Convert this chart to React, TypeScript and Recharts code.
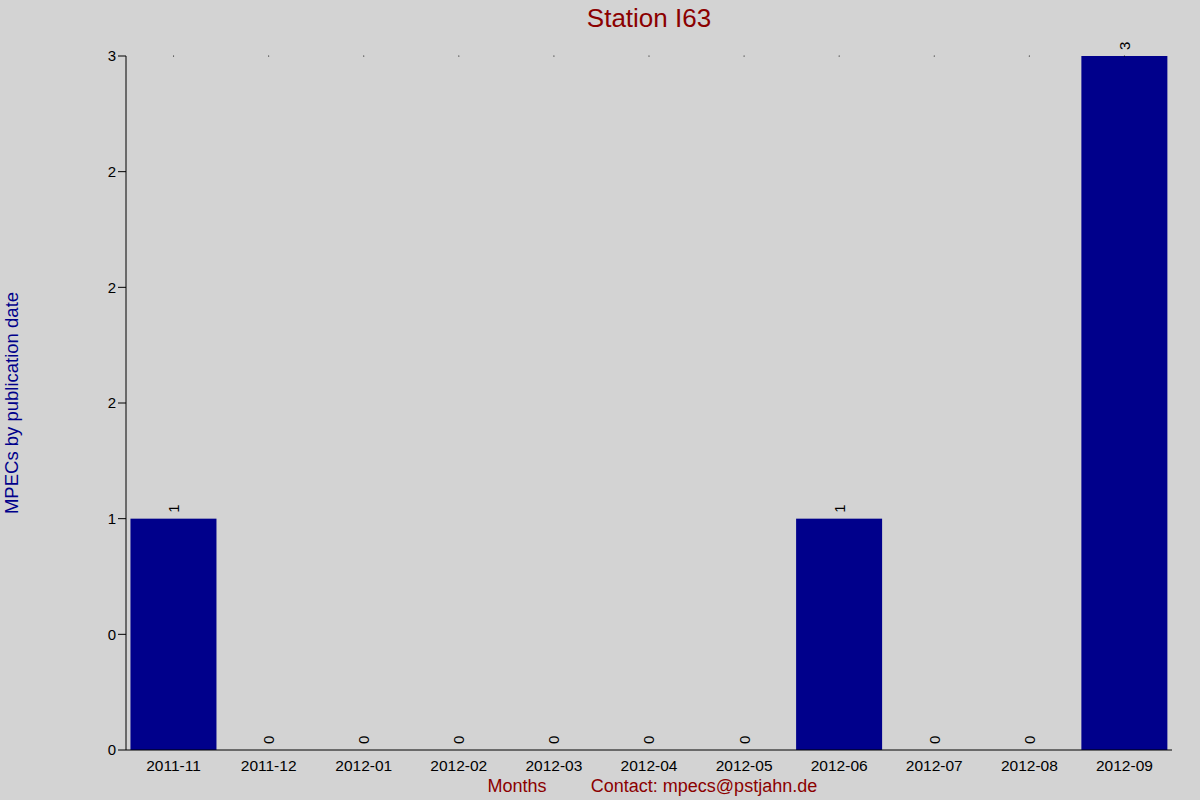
import { BarChart, Bar, XAxis, YAxis, Label, ReferenceDot } from 'recharts';

// monthly MPEC counts for station I63
const months = ['2011-11', '2011-12', '2012-01', '2012-02', '2012-03', '2012-04', '2012-05', '2012-06', '2012-07', '2012-08', '2012-09'];
const counts = [1, 0, 0, 0, 0, 0, 0, 1, 0, 0, 3];

const yTicks = [0, 0.5, 1, 1.5, 2, 2.5, 3];
const yTickLabels = ['0', '0', '1', '2', '2', '2', '3'];

const data = months.map((m, i) => ({ month: m, count: counts[i] }));

const font = '"Liberation Sans", Arial, sans-serif';

// bar plus its rotated value label (drawn here so zero bars get a label too)
const BarWithLabel = (props: any) => {
  const { x, y, width, height, value, fill } = props;
  const v = Array.isArray(value) ? value[1] - value[0] : value;
  const cx = x + width / 2;
  const ty = y - 6;
  return (
    <g>
      {height > 0 && <rect x={x} y={y} width={width} height={height} fill={fill} />}
      <text
        x={cx}
        y={ty}
        transform={`rotate(-90 ${cx} ${ty})`}
        textAnchor="start"
        dominantBaseline="central"
        fontSize={15}
        fontFamily={font}
        fill="#000"
      >
        {v}
      </text>
    </g>
  );
};

export default function App() {
  return (
    <div style={{ position: 'absolute', left: 0, top: 0, width: 1200, height: 800, background: '#d3d3d3' }}>
      <BarChart
        width={1200}
        height={800}
        data={data}
        margin={{ top: 56, right: 28, bottom: 20, left: 66 }}
        barCategoryGap="4.7%"
        style={{ fontFamily: font }}
      >
        <text x={649} y={18} textAnchor="middle" dominantBaseline="central" fontSize={26} fill="#8b0000" fontFamily={font}>
          Station I63
        </text>
        <XAxis
          dataKey="month"
          height={30}
          tickLine={false}
          axisLine={{ stroke: '#000', strokeWidth: 1 }}
          tick={{ fill: '#000', fontSize: 15.5, fontFamily: font }}
          tickMargin={4}
          interval={0}
        >
          <Label value="Months" position="insideBottom" offset={-12} dx={-132} fill="#8b0000" fontSize={18} fontFamily={font} />
        </XAxis>
        <YAxis
          width={60}
          domain={[0, 3]}
          ticks={yTicks}
          tickFormatter={(v: number) => yTickLabels[yTicks.indexOf(v)]}
          tickLine={{ stroke: '#000' }}
          tickSize={8}
          axisLine={{ stroke: '#000', strokeWidth: 1 }}
          tick={{ fill: '#000', fontSize: 15, fontFamily: font }}
        />
        {months.map((m) => (
          <ReferenceDot key={m} x={m} y={3} r={0.6} fill="#000" stroke="none" ifOverflow="visible" />
        ))}
        <text x={704} y={786} textAnchor="middle" dominantBaseline="central" fontSize={18} fill="#8b0000" fontFamily={font}>
          Contact: mpecs@pstjahn.de
        </text>
        <text
          x={11}
          y={403}
          transform="rotate(-90 11 403)"
          textAnchor="middle"
          dominantBaseline="central"
          fontSize={18.5}
          fill="#00008b"
          fontFamily={font}
        >
          MPECs by publication date
        </text>
        <Bar dataKey="count" fill="#00008b" isAnimationActive={false} shape={<BarWithLabel />} />
      </BarChart>
    </div>
  );
}
